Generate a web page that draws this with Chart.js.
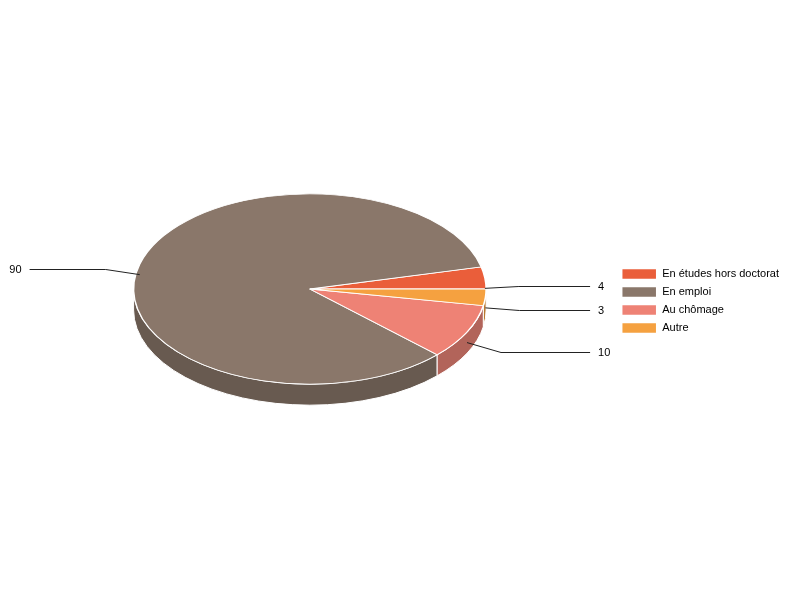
<!DOCTYPE html>
<html>
<head>
<meta charset="utf-8">
<script src="https://cdn.jsdelivr.net/npm/chart.js@4.4.1/dist/chart.umd.min.js"></script>
<style>
    html, body { margin: 0; padding: 0; background: #fff; }
    #wrap { width: 800px; height: 600px; }
</style>
</head>
<body>
<div id="wrap"><canvas id="pieChart" width="800" height="600"></canvas></div>
<script>
// données du graphique
const categories = ['En études hors doctorat', 'En emploi', 'Au chômage', 'Autre'];
const values = [4, 90, 10, 3];
const topColors = ['#ea5e3a', '#8a776a', '#ee8275', '#f5a140'];
const sideColors = ['#a8432a', '#685a50', '#b2645a', '#b87830'];

// réglages de la perspective 3D
const TILT = 0.54;        // aplatissement vertical
const DEPTH = 21;         // épaisseur du camembert
const LIFT = 12;          // remonte le dessus pour centrer dessus + côté
const LABEL_PUSH = 1.22;  // écartement vertical des étiquettes
const ELBOW = 34;         // longueur du premier segment des traits
const LINE_REACH = 104;   // au-delà du rayon

Chart.defaults.font.family = "'Liberation Sans', Arial, sans-serif";
Chart.defaults.font.size = 11;
Chart.defaults.color = '#000';

// géométrie calculée par Chart.js
function pieGeom(chart) {
    const meta = chart.getDatasetMeta(0);
    const el = meta.data[0];
    return {
        cx: el.x,
        cy: el.y,
        r: el.outerRadius,
        ry: el.outerRadius * TILT,
        cyS: el.y - LIFT,
        arcs: meta.data
    };
}

const pie3d = {
    id: 'pie3d',
    beforeDatasetsDraw(chart) {
        const ctx = chart.ctx;
        const g = pieGeom(chart);
        // côtés visibles (moitié avant)
        g.arcs.forEach((arc, i) => {
            const a = Math.max(arc.startAngle, Math.PI);
            const b = Math.min(arc.endAngle, 2 * Math.PI);
            if (a >= b) return;
            const t0 = 2 * Math.PI - b;
            const t1 = 2 * Math.PI - a;
            ctx.beginPath();
            ctx.ellipse(g.cx, g.cyS, g.r, g.ry, 0, t0, t1, false);
            ctx.ellipse(g.cx, g.cyS + DEPTH, g.r, g.ry, 0, t1, t0, true);
            ctx.closePath();
            ctx.fillStyle = sideColors[i];
            ctx.fill();
            ctx.strokeStyle = '#fff';
            ctx.lineWidth = 1;
            ctx.stroke();
        });
        // dessus : on aplatit et on inverse le sens
        ctx.save();
        ctx.translate(g.cx, g.cyS);
        ctx.scale(1, -TILT);
        ctx.translate(-g.cx, -g.cy);
    },
    afterDatasetsDraw(chart) {
        const ctx = chart.ctx;
        ctx.restore();
        const g = pieGeom(chart);
        const data = chart.data.datasets[0].data;
        ctx.save();
        ctx.strokeStyle = '#222';
        ctx.lineWidth = 1;
        ctx.fillStyle = '#000';
        ctx.font = "11px 'Liberation Sans', Arial, sans-serif";
        ctx.textBaseline = 'middle';
        g.arcs.forEach((arc, i) => {
            const mid = (arc.startAngle + arc.endAngle) / 2;
            const ux = Math.cos(mid);
            const uy = -Math.sin(mid);
            const side = ux >= 0 ? 1 : -1;
            const ax = g.cx + g.r * ux;
            const ay = g.cyS + g.ry * uy + DEPTH / 2;
            const ly = Math.round(g.cyS + g.ry * LABEL_PUSH * uy + DEPTH / 2) + 0.5;
            const ex = ax + side * ELBOW;
            const endX = g.cx + side * (g.r + LINE_REACH);
            ctx.beginPath();
            ctx.moveTo(ax, ay);
            ctx.lineTo(ex, ly);
            ctx.lineTo(endX, ly);
            ctx.stroke();
            ctx.textAlign = side > 0 ? 'left' : 'right';
            ctx.fillText(String(data[i]), endX + side * 8, ly);
        });
        ctx.restore();
    }
};

new Chart(document.getElementById('pieChart'), {
    type: 'pie',
    data: {
        labels: categories,
        datasets: [{
            data: values,
            backgroundColor: topColors,
            borderColor: '#fff',
            borderWidth: 1.5,
            hoverOffset: 0
        }]
    },
    options: {
        responsive: false,
        animation: false,
        devicePixelRatio: 1,
        rotation: 90,
        layout: {
            padding: { top: 124, bottom: 122, left: 5, right: 11 }
        },
        plugins: {
            tooltip: { enabled: false },
            legend: {
                position: 'right',
                labels: {
                    boxWidth: 35,
                    boxHeight: 11,
                    padding: 7,
                    color: '#000',
                    font: { size: 11 }
                }
            }
        }
    },
    plugins: [pie3d]
});
</script>
</body>
</html>
